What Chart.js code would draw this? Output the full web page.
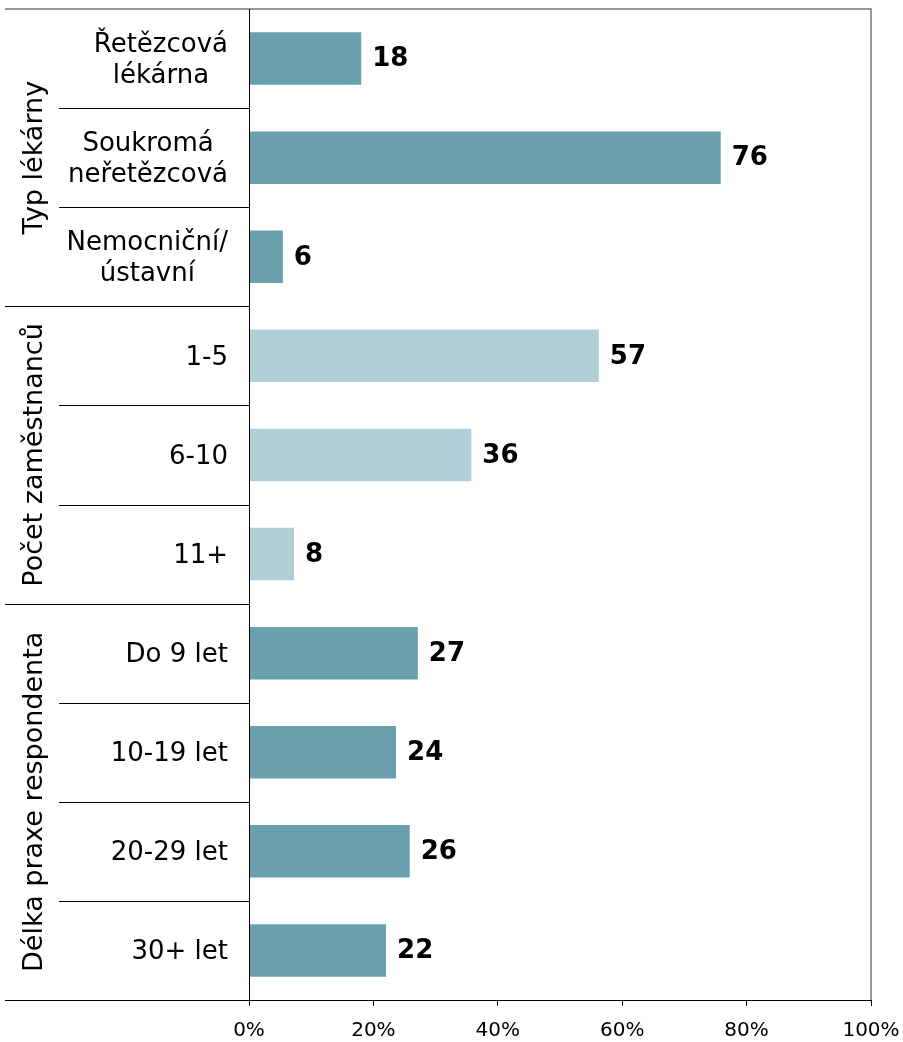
<!DOCTYPE html>
<html>
<head>
<meta charset="utf-8">
<script src="https://cdn.jsdelivr.net/npm/chart.js@4"></script>
<style>
  body { margin: 0; background: #fff; }
</style>
</head>
<body>
<canvas id="chart" width="903" height="1042"></canvas>
<script>
// data
const categories = [['Řetězcová', 'lékárna'], ['Soukromá', 'neřetězcová'], ['Nemocniční/', 'ústavní'],
    '1-5', '6-10', '11+', 'Do 9 let', '10-19 let', '20-29 let', '30+ let'];
const groups = ['Typ lékárny', 'Počet zaměstnanců', 'Délka praxe respondenta'];
const groupSizes = [3, 3, 4];
const values = [18.2, 76.0, 5.6, 56.4, 35.9, 7.4, 27.3, 23.8, 26.0, 22.2];
const valueLabels = ['18', '76', '6', '57', '36', '8', '27', '24', '26', '22'];
const xTicks = [0, 20, 40, 60, 80, 100];

const dark = '#6a9fad';
const light = '#b0cfd6';
const barColors = [dark, dark, dark, light, light, light, dark, dark, dark, dark];
const FONT = '"DejaVu Sans", Verdana, sans-serif';

// linky, popisky kategorii a skupin
const decor = {
    id: 'decor',
    afterDraw(chart) {
        const ctx = chart.ctx;
        const area = chart.chartArea;
        const y = chart.scales.y;
        const step = (area.bottom - area.top) / categories.length;
        ctx.save();

        // ramecek
        ctx.strokeStyle = '#777';
        ctx.lineWidth = 1.5;
        ctx.beginPath();
        ctx.moveTo(5, area.top);
        ctx.lineTo(area.right, area.top);
        ctx.lineTo(area.right, area.bottom);
        ctx.stroke();

        ctx.strokeStyle = '#000';
        ctx.lineWidth = 1;
        ctx.beginPath();
        ctx.moveTo(5, area.bottom + 0.5);
        ctx.lineTo(area.right, area.bottom + 0.5);
        ctx.moveTo(area.left + 0.5, area.top);
        ctx.lineTo(area.left + 0.5, area.bottom + 6);
        ctx.stroke();

        // oddelovace
        let idx = 0;
        const groupEnds = [];
        groupSizes.forEach(n => { idx += n; groupEnds.push(idx); });
        for (let i = 1; i < categories.length; i++) {
            const yy = Math.round(area.top + step * i) + 0.5;
            const isGroup = groupEnds.includes(i);
            ctx.beginPath();
            ctx.moveTo(isGroup ? 5 : 59, yy);
            ctx.lineTo(area.left, yy);
            ctx.stroke();
        }

        // popisky kategorii
        ctx.fillStyle = '#000';
        ctx.font = '26px ' + FONT;
        ctx.textBaseline = 'middle';
        const rightEdge = 228;
        const lh = 31;
        categories.forEach((c, i) => {
            const cy = y.getPixelForValue(i);
            const lines = Array.isArray(c) ? c : [c];
            const w = Math.max(...lines.map(t => ctx.measureText(t).width));
            ctx.textAlign = 'center';
            lines.forEach((t, k) => {
                ctx.fillText(t, rightEdge - w / 2, cy + 2 + (k - (lines.length - 1) / 2) * lh);
            });
        });

        // popisky skupin
        ctx.font = '27px ' + FONT;
        let start = 0;
        groups.forEach((g, gi) => {
            const top = area.top + step * start;
            const bottom = area.top + step * (start + groupSizes[gi]);
            ctx.save();
            ctx.translate(35, (top + bottom) / 2);
            ctx.rotate(-Math.PI / 2);
            ctx.textAlign = 'center';
            ctx.fillText(g, 0, 0);
            ctx.restore();
            start += groupSizes[gi];
        });

        // hodnoty
        ctx.font = 'bold 26px ' + FONT;
        ctx.textAlign = 'left';
        const x = chart.scales.x;
        values.forEach((v, i) => {
            ctx.fillText(valueLabels[i], x.getPixelForValue(v) + 10, y.getPixelForValue(i) + 1);
        });
        ctx.restore();
    }
};

new Chart(document.getElementById('chart').getContext('2d'), {
    type: 'bar',
    data: {
        labels: categories,
        datasets: [{
            data: values,
            backgroundColor: barColors,
            borderColor: 'rgba(255,255,255,0.35)',
            borderWidth: 1,
            categoryPercentage: 1,
            barPercentage: 0.55
        }]
    },
    options: {
        indexAxis: 'y',
        responsive: false,
        animation: false,
        layout: { padding: { left: 249, top: 9, right: 32, bottom: 0 } },
        plugins: {
            legend: { display: false },
            tooltip: { enabled: false }
        },
        scales: {
            y: { display: false },
            x: {
                min: 0,
                max: 100,
                afterBuildTicks(scale) {
                    scale.ticks = xTicks.map(v => ({ value: v }));
                },
                afterFit(scale) {
                    scale.height = 42;
                    scale.paddingLeft = 0;
                    scale.paddingRight = 0;
                },
                border: { display: false },
                grid: {
                    drawOnChartArea: false,
                    drawTicks: true,
                    tickLength: 6,
                    color: '#000'
                },
                ticks: {
                    padding: 13,
                    maxRotation: 0,
                    color: '#000',
                    font: { family: FONT, size: 20 },
                    callback: v => v + '%'
                }
            }
        }
    },
    plugins: [decor]
});
</script>
</body>
</html>
